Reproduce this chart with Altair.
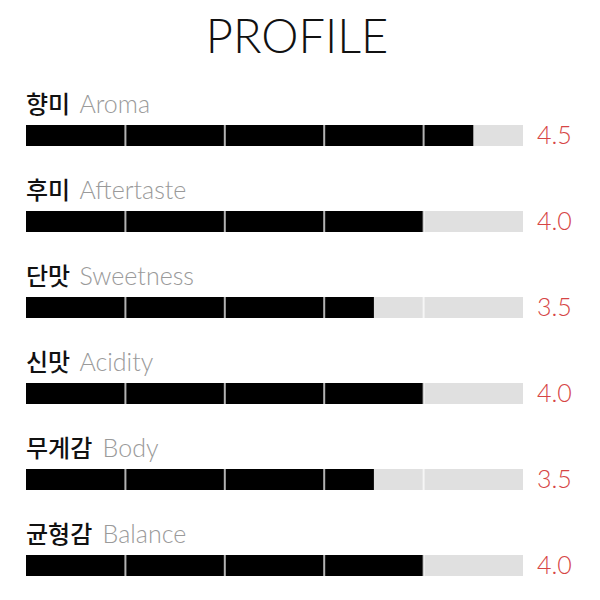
import altair as alt
import pandas as pd

title_text = "PROFILE"
korean = ["향미", "후미", "단맛", "신맛", "무게감", "균형감"]
english = ["Aroma", "Aftertaste", "Sweetness", "Acidity", "Body", "Balance"]
scores = [4.5, 4.0, 3.5, 4.0, 3.5, 4.0]
max_score = 5
dividers = [1, 2, 3, 4]

rows = list(range(len(korean)))
df = pd.DataFrame({
    "row": rows,
    "kor": korean,
    "eng": english,
    "score": scores,
    "label": [f"{s:.1f}" for s in scores],
    "zero": [0] * len(rows),
    "maxv": [max_score] * len(rows),
})
# English label placed right after the Korean label (approx. 23.5px per Hangul glyph)
px_per_unit = (515 - 18) / max_score
df["eng_x"] = (df["kor"].str.len() * 23.2 + 7) / px_per_unit

div_df = pd.DataFrame([(r, d) for r in rows for d in dividers], columns=["row", "d"])

xs = alt.Scale(domain=[0, max_score], range=[18, 515], padding=0)
ys = alt.Scale(domain=[0, len(rows) - 1], range=[127.5, 557.5], padding=0)

X = lambda f: alt.X(f, type="quantitative", scale=xs, axis=None)
Y = alt.Y("row:Q", scale=ys, axis=None)

base = alt.Chart(df)

bg = base.mark_bar(orient="horizontal", size=21, color="#e0e0e0").encode(
    x=X("zero"), x2="maxv", y=Y
)
fg = base.mark_bar(orient="horizontal", size=21, color="#000000").encode(
    x=X("zero"), x2="score", y=Y
)
ticks = alt.Chart(div_df).mark_tick(orient="vertical", size=21, thickness=2, color="#ffffff").encode(
    x=X("d"), y=Y
)
kor_text = base.mark_text(
    align="left", baseline="alphabetic", dy=-23, fontSize=24, fontWeight=500,
    font="Noto Sans CJK KR", color="#111111"
).encode(x=X("zero"), y=Y, text="kor:N")
eng_text = base.mark_text(
    align="left", baseline="alphabetic", dy=-23, fontSize=25, fontWeight=300,
    font="Lato", color="#9a9a9a"
).encode(x=X("eng_x"), y=Y, text="eng:N")
val_text = base.mark_text(
    align="left", baseline="alphabetic", dx=14, dy=8, fontSize=25, fontWeight=300,
    font="Lato", color="#d64545"
).encode(x=X("maxv"), y=Y, text="label:N")

title = alt.Chart(pd.DataFrame({"t": [title_text]})).mark_text(
    align="center", baseline="alphabetic", fontSize=47, fontWeight=300,
    font="Lato", color="#111111"
).encode(x=alt.value(289), y=alt.value(45), text="t:N")

chart = alt.layer(bg, fg, ticks, kor_text, eng_text, val_text, title).properties(
    width=584, height=584, padding=0, autosize=alt.AutoSizeParams(type="none")
).configure_view(stroke=None)

chart.save("out.html", embed_options={"renderer": "svg", "actions": False})
